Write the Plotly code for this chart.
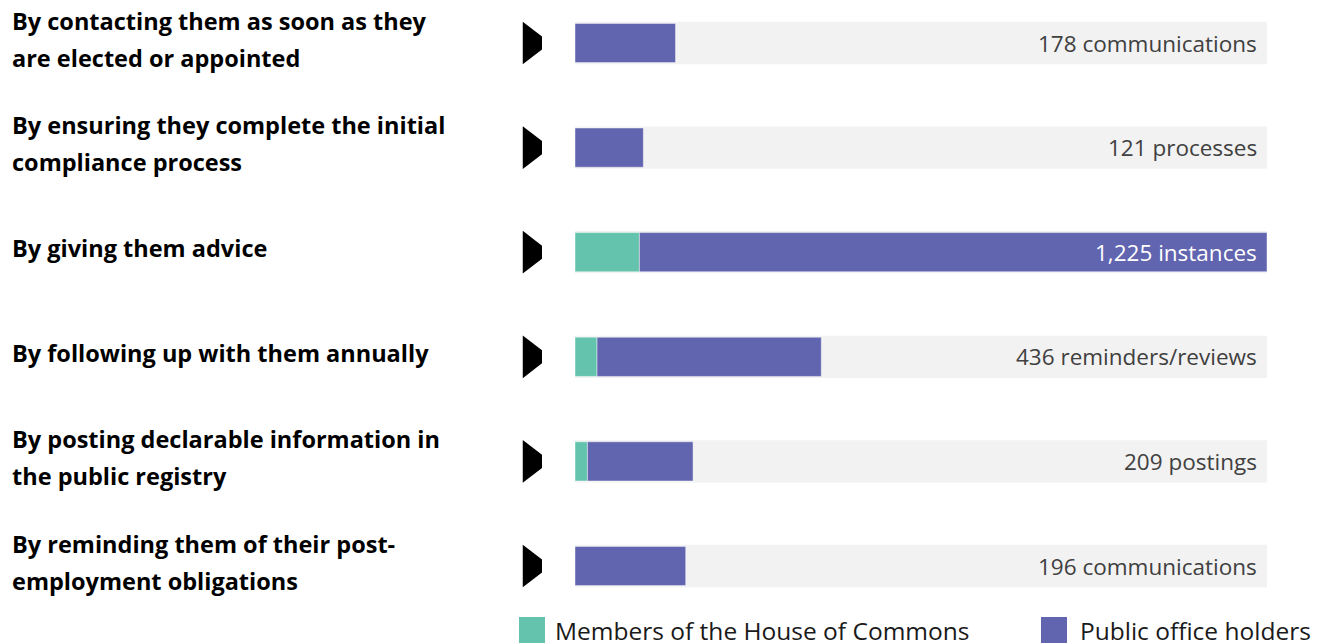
import plotly.graph_objects as go

# page body has an 8px margin; figure coordinates = page pixel - OFF
OFF = 8
PW, PH = 1323, 643
W, H = PW - OFF, PH - OFF

categories = [
    "By contacting them as soon as they<br>are elected or appointed",
    "By ensuring they complete the initial<br>compliance process",
    "By giving them advice",
    "By following up with them annually",
    "By posting declarable information in<br>the public registry",
    "By reminding them of their post-<br>employment obligations",
]
mp_values = [0, 0, 114, 39, 22, 0]
poh_values = [178, 121, 1111, 397, 187, 196]
value_labels = [
    "178 communications",
    "121 processes",
    "1,225 instances",
    "436 reminders/reviews",
    "209 postings",
    "196 communications",
]
series_names = ["Members of the House of Commons", "Public office holders"]

GREEN = "#63c3ac"
BLUE = "#6164ae"
GREY = "#f2f2f2"
TEXT = "#404040"


def px(p):
    return (p - OFF) / W


def py(p):
    return 1 - (p - OFF) / H


totals = [m + p for m, p in zip(mp_values, poh_values)]
max_total = max(totals)

fig = go.Figure()

# grey background track
fig.add_trace(go.Bar(
    y=categories, x=[max_total] * len(categories), base=0, orientation="h",
    marker=dict(color=GREY, line=dict(color=GREY, width=2)),
    width=0.385, showlegend=False, hoverinfo="skip",
))
fig.add_trace(go.Bar(
    y=categories, x=mp_values, base=0, orientation="h", name=series_names[0],
    marker=dict(color=GREEN, line=dict(color="rgba(255,255,255,0.45)", width=1)),
    width=0.375, showlegend=False,
))
fig.add_trace(go.Bar(
    y=categories, x=poh_values, base=mp_values, orientation="h", name=series_names[1],
    marker=dict(color=BLUE, line=dict(color="rgba(255,255,255,0.45)", width=1)),
    width=0.375, showlegend=False,
))
# arrow markers
fig.add_trace(go.Scatter(
    x=[0.5] * len(categories), y=categories, xaxis="x2", mode="markers",
    marker=dict(symbol="triangle-right", size=37, color="black", line=dict(width=0)),
    showlegend=False, hoverinfo="skip",
))

annotations = []
for cat in categories:
    lines = cat.split("<br>")
    txt = "<br>".join("<span style='font-size:23.5px'>%s</span>" % l for l in lines)
    annotations.append(dict(
        x=px(10), xref="paper", xanchor="left", y=cat, yref="y", yshift=4,
        text="<b>%s</b>" % txt, showarrow=False, align="left",
        font=dict(family="Open Sans", size=28.5, color="black"),
    ))
for cat, lab, tot in zip(categories, value_labels, totals):
    annotations.append(dict(
        x=max_total, xref="x", xanchor="right", xshift=-8, y=cat, yref="y",
        text=lab, showarrow=False,
        font=dict(family="Open Sans", size=22.5, color="white" if tot >= 0.8 * max_total else TEXT),
    ))

# custom legend
shapes = []
legend_pos = [(519, 553), (1041, 1078)]
for (sx, tx), name, col in zip(legend_pos, series_names, [GREEN, BLUE]):
    shapes.append(dict(type="rect", xref="paper", yref="paper",
                       x0=px(sx), x1=px(sx + 26), y0=py(645), y1=py(617),
                       fillcolor=col, line=dict(width=0)))
    annotations.append(dict(
        x=px(tx), xref="paper", xanchor="left", y=py(630), yref="paper", yanchor="middle",
        text=name, showarrow=False, font=dict(family="Open Sans", size=24.5, color="#1a1a1a"),
    ))

top_c, step = 43, 104.6
top_px = OFF
bottom_px = 618
y_top_val = (top_px - top_c) / step
y_bot_val = (bottom_px - top_c) / step

fig.update_layout(
    width=W, height=H, margin=dict(l=0, r=0, t=0, b=0),
    paper_bgcolor="white", plot_bgcolor="white",
    barmode="overlay",
    xaxis=dict(domain=[px(575), px(1267)], range=[0, max_total], visible=False, fixedrange=True),
    xaxis2=dict(domain=[px(522), px(542)], range=[0, 1], visible=False, anchor="y"),
    yaxis=dict(domain=[py(bottom_px), 1], range=[y_bot_val, y_top_val], visible=False,
               type="category"),
    annotations=annotations, shapes=shapes,
    showlegend=False,
)

fig.write_html("out.html")
